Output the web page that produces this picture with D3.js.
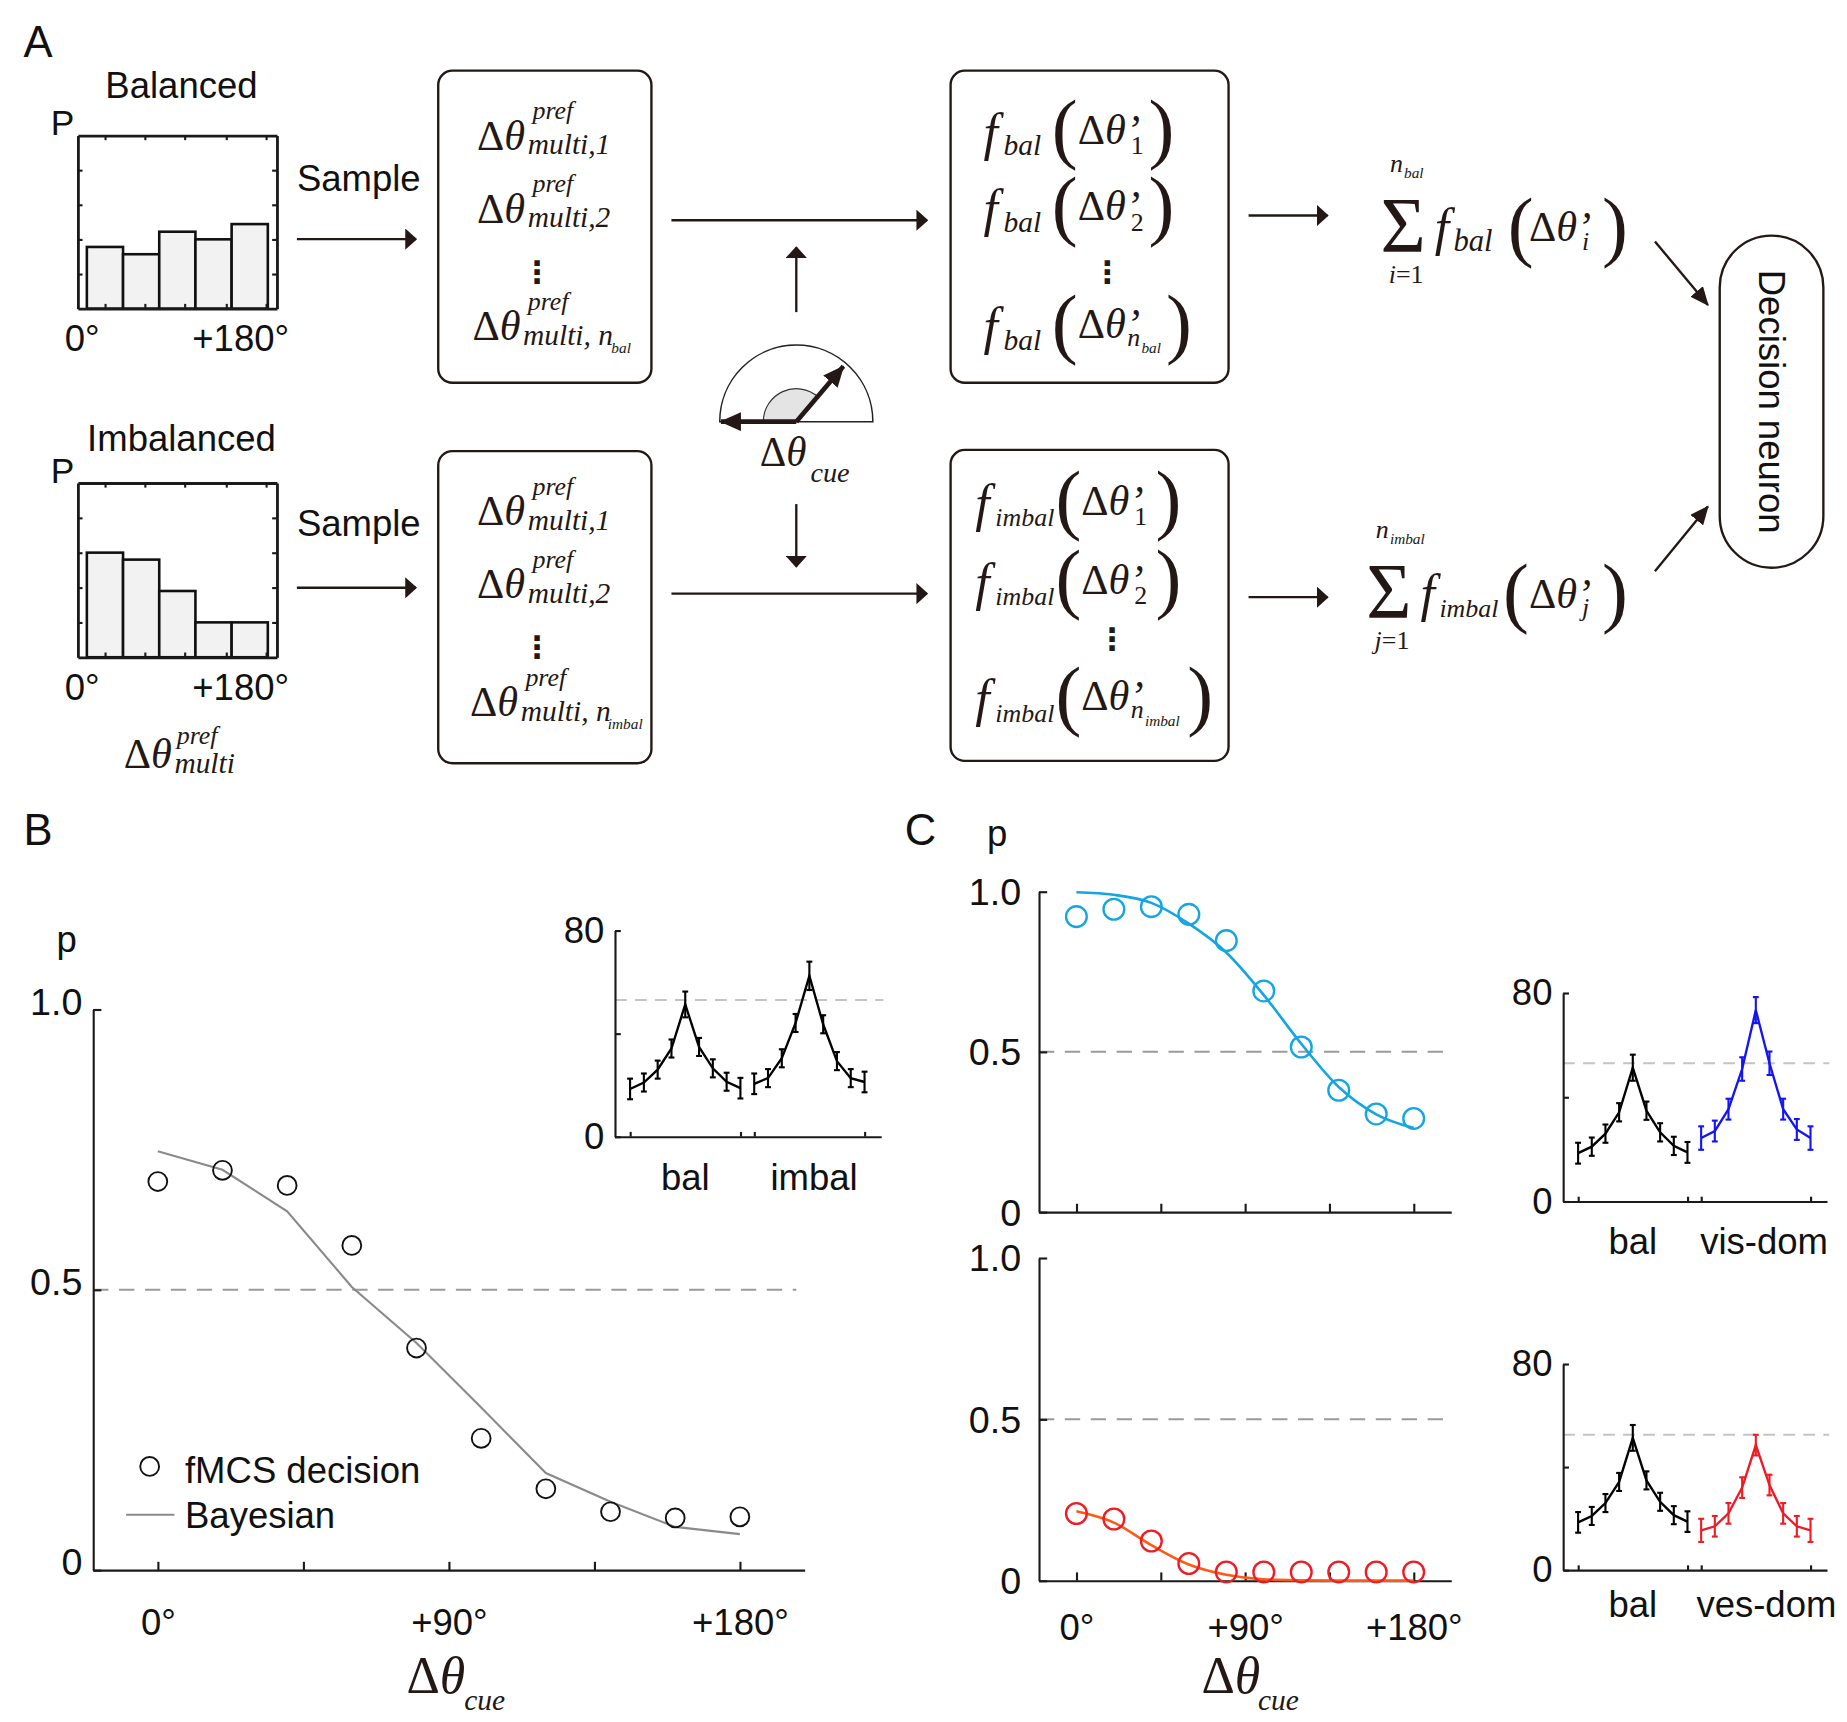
<!DOCTYPE html>
<html>
<head>
<meta charset="utf-8">
<script src="https://cdn.jsdelivr.net/npm/d3@7"></script>
<style>
body { margin: 0; background: #fff; }
svg { display: block; }
</style>
</head>
<body>
<script>
// ---- data ----
var histBins = [0, 1, 2, 3, 4];
var balancedP = [0.178, 0.157, 0.222, 0.200, 0.244];
var imbalancedP = [0.30, 0.28, 0.19, 0.10, 0.10];
var histYTicks = [0.1, 0.2, 0.3, 0.4];
var histXTicks = [0.5, 1.6, 2.7, 3.85, 4.95];

var cueAngles = [0, 20, 40, 60, 80, 100, 120, 140, 160, 180];
var fmcsB = [0.693, 0.713, 0.686, 0.579, 0.396, 0.235, 0.145, 0.104, 0.093, 0.095];
var bayesB = [0.747, 0.714, 0.640, 0.505, 0.405, 0.290, 0.173, 0.122, 0.077, 0.064];
var fmcsVis = [0.922, 0.945, 0.953, 0.929, 0.847, 0.690, 0.515, 0.380, 0.306, 0.292];
var fitVis = [0.998, 0.990, 0.965, 0.900, 0.810, 0.677, 0.525, 0.390, 0.305, 0.262];
var fmcsVes = [0.208, 0.191, 0.123, 0.053, 0.027, 0.027, 0.027, 0.027, 0.027, 0.027];
var fitVes = [0.215, 0.180, 0.110, 0.050, 0.018, 0.004, 0.001, 0, 0, 0];

var angleTicks = [0, 45, 90, 135, 180];
var angleLabels = ["0\u00b0", "", "+90\u00b0", "", "+180\u00b0"];
var pTicks = [0, 0.5, 1];
var pTickLabels = ["0", "0.5", "1.0"];

// inset tuning curves (two groups of 9 neurons side by side)
var balIdx = [0, 1, 2, 3, 4, 5, 6, 7, 8];
var otherIdx = [9, 10, 11, 12, 13, 14, 15, 16, 17];
var insetXTicks = [0, 8, 9, 17];
var rateTicks = [0, 40, 80];
var rateTickLabels = ["0", "", "80"];
var balRate = [18.5, 21.0, 26.0, 34.2, 51.3, 34.8, 26.5, 21.3, 18.8];
var balErr = [4, 3.5, 3.5, 3.5, 5, 3.5, 3.5, 3.5, 4];
var imbalRate = [20.5, 22.7, 30.4, 44.1, 62.4, 43.6, 29.3, 22.7, 21.2];
var imbalErr = [4, 3.5, 3.5, 3.5, 5.5, 3.5, 3.5, 3.5, 4];
var visRate = [24.3, 27.0, 35.4, 50.8, 73.4, 53.0, 35.4, 27.6, 24.3];
var visErr = [4.5, 4, 4, 4.5, 5, 4.5, 4, 4, 4.5];
var vesRate = [15.4, 17.0, 22.0, 32.0, 48.5, 33.0, 22.0, 17.0, 15.4];
var vesErr = [4.5, 4, 4, 4, 4, 4, 4, 4, 4.5];
var rateThresh = [53, 53, 52.5];

// ---- page ----
var SANS = "'Liberation Sans', Arial, Helvetica, sans-serif";
var SERIF = "'Liberation Serif', 'Times New Roman', serif";
var INK = "#231815";
var CYAN = "#14a5e3", BLUE = "#1414f5", RED = "#ee1c25", ORANGE = "#ff5a14";

var svg = d3.select("body").append("svg")
    .attr("width", 1847)
    .attr("height", 1722)
    .attr("viewBox", "0 0 1568 1462");

var defs = svg.append("defs");

function marker(id, len, wid) {
    defs.append("marker")
        .attr("id", id)
        .attr("viewBox", "0 0 " + len + " " + wid)
        .attr("refX", len - 1)
        .attr("refY", wid / 2)
        .attr("markerWidth", len)
        .attr("markerHeight", wid)
        .attr("markerUnits", "userSpaceOnUse")
        .attr("orient", "auto")
        .append("path")
        .attr("d", "M0,0L" + len + "," + (wid / 2) + "L0," + wid + "Z")
        .attr("fill", INK);
}
marker("thin", 10, 18);
marker("diag", 16, 14);
marker("thick", 18, 16);

function arrow(x1, y1, x2, y2, m, w) {
    svg.append("line")
        .attr("x1", x1).attr("y1", y1)
        .attr("x2", x2).attr("y2", y2)
        .attr("stroke", INK)
        .attr("stroke-width", w || 2)
        .attr("marker-end", "url(#" + m + ")");
}

function label(g, x, y, s, size, anchor) {
    return g.append("text")
        .attr("x", x).attr("y", y)
        .attr("text-anchor", anchor || "start")
        .style("font-family", SANS)
        .style("font-size", size + "px")
        .attr("fill", "#111")
        .text(s);
}

function mtext(g, x, y, s, size, italic) {
    return g.append("text")
        .attr("x", x).attr("y", y)
        .style("font-family", SERIF)
        .style("font-style", italic ? "italic" : "normal")
        .style("font-size", size + "px")
        .attr("fill", INK)
        .text(s);
}

function deltaTheta(g, x, y, size, prime) {
    var t = g.append("text")
        .attr("x", x).attr("y", y)
        .style("font-family", SERIF)
        .style("font-size", size + "px")
        .attr("fill", INK);
    t.append("tspan").text("\u0394");
    t.append("tspan").style("font-style", "italic").text(prime ? "\u03b8\u2019" : "\u03b8");
    return t;
}

function vdots(g, x, y) {
    g.append("text")
        .attr("x", x).attr("y", y)
        .attr("text-anchor", "middle")
        .style("font-family", "'DejaVu Sans', sans-serif")
        .style("font-weight", "bold")
        .style("font-size", "26px")
        .attr("fill", INK)
        .text("\u22ee");
}

function box(x, y, w, h) {
    svg.append("rect")
        .attr("x", x).attr("y", y)
        .attr("width", w).attr("height", h)
        .attr("rx", 12)
        .attr("fill", "none")
        .attr("stroke", INK)
        .attr("stroke-width", 2);
}

function styleAxis(a, size) {
    a.attr("font-size", null).attr("font-family", null);
    a.select(".domain").attr("stroke", "#1a1a1a").attr("stroke-width", 1.8);
    a.selectAll(".tick line").attr("stroke", "#1a1a1a").attr("stroke-width", 1.8);
    a.selectAll("text")
        .style("font-family", SANS)
        .style("font-size", (size || 31) + "px")
        .attr("fill", "#111");
}

// ================= panel A =================
var gA = svg.append("g");
label(gA, 20, 48, "A", 37);

function drawHist(title, titleY, values, fx, fy, fw, fh) {
    var x = d3.scaleLinear().domain([-0.25, 5.25]).range([fx, fx + fw]);
    var y = d3.scaleLinear().domain([0, 0.5]).range([fy + fh, fy]);
    var g = gA.append("g");

    g.selectAll(".bar")
        .data(values)
        .enter().append("rect")
        .attr("class", "bar")
        .attr("x", function(d, i) { return x(histBins[i]); })
        .attr("width", function(d, i) { return x(histBins[i] + 1) - x(histBins[i]); })
        .attr("y", function(d) { return y(d); })
        .attr("height", function(d) { return y(0) - y(d); })
        .attr("fill", "#f2f2f2")
        .attr("stroke", "#111")
        .attr("stroke-width", 2.2);

    var axes = [
        [d3.axisBottom(x).tickValues(histXTicks), "translate(0," + (fy + fh) + ")"],
        [d3.axisTop(x).tickValues(histXTicks), "translate(0," + fy + ")"],
        [d3.axisLeft(y).tickValues(histYTicks), "translate(" + fx + ",0)"],
        [d3.axisRight(y).tickValues(histYTicks), "translate(" + (fx + fw) + ",0)"]
    ];
    axes.forEach(function(a) {
        var ax = g.append("g").attr("transform", a[1])
            .call(a[0].tickSizeInner(-4).tickSizeOuter(0).tickFormat(""));
        styleAxis(ax);
        ax.select(".domain").attr("stroke-width", 2.4);
    });

    label(g, fx + 88, titleY, title, 31, "middle");
    label(g, fx - 23, fy, "P", 30);
    label(g, x(0) - 4, fy + fh + 36, "0\u00b0", 31, "middle");
    label(g, x(5) - 23, fy + fh + 36, "+180\u00b0", 31, "middle");
}

drawHist("Balanced", 83, balancedP, 66, 115, 169, 147);
drawHist("Imbalanced", 383, imbalancedP, 66, 410, 169, 148);

deltaTheta(gA, 105, 652, 36);
mtext(gA, 150, 632, "pref", 22, true);
mtext(gA, 148, 656, "multi", 25, true);

// sample arrows
label(gA, 252, 162, "Sample", 31);
label(gA, 252, 455, "Sample", 31);
arrow(252, 203, 353, 203, "thin");
arrow(252, 499, 353, 499, "thin");

// preferred-direction boxes
box(372, 60, 181, 265);
box(372, 383, 181, 265);

function prefTerm(x, y, sub, sub2, sub2dx) {
    deltaTheta(gA, x, y, 36);
    mtext(gA, x + 47, y - 26, "pref", 22, true);
    mtext(gA, x + 43, y + 4, sub, 25, true);
    if (sub2) mtext(gA, x + sub2dx, y + 11, sub2, 13, true);
}
prefTerm(405, 127, "multi,1");
prefTerm(405, 189, "multi,2");
vdots(gA, 456, 240);
prefTerm(401, 289, "multi, n", "bal", 118);

prefTerm(405, 446, "multi,1");
prefTerm(405, 508, "multi,2");
vdots(gA, 456, 559);
prefTerm(399, 608, "multi, n", "imbal", 117);

// cue icon
arrow(570, 187, 787, 187, "thin");
arrow(570, 504, 787, 504, "thin");
arrow(676, 265, 676, 210, "thin");
arrow(676, 428, 676, 481, "thin");

var gIcon = svg.append("g").attr("transform", "translate(676,358)");
gIcon.append("path")
    .attr("d", d3.arc()({ innerRadius: 0, outerRadius: 65, startAngle: -Math.PI / 2, endAngle: Math.PI / 2 }))
    .attr("fill", "none")
    .attr("stroke", "#222")
    .attr("stroke-width", 1.3);
gIcon.append("path")
    .attr("d", d3.arc()({ innerRadius: 0, outerRadius: 28, startAngle: -Math.PI / 2, endAngle: 0.72 }))
    .attr("fill", "#e4e4e4")
    .attr("stroke", "#333")
    .attr("stroke-width", 1);
arrow(676, 358, 612, 358, "thick", 4);
arrow(676, 358, 716, 311, "thick", 4);
deltaTheta(svg, 645, 396, 35);
mtext(svg, 688, 409, "cue", 24, true);

// f boxes
box(807, 60, 236, 265);
box(807, 382, 236, 264);

function fTerm(fx, y, sub, subSize, subW, idx, idx2, closeX) {
    mtext(svg, fx, y, "f", 44, true);
    mtext(svg, fx + 17, y + 5, sub, subSize, true);
    mtext(svg, fx + subW, y + 4, "(", 66, false);
    deltaTheta(svg, fx + subW + 22, y - 5, 36, true);
    if (idx2) {
        mtext(svg, fx + subW + 64, y + 2, idx, 22, true);
        mtext(svg, fx + subW + 76, y + 8, idx2, 13, true);
    } else {
        mtext(svg, fx + subW + 67, y + 4, idx, 22, false);
    }
    mtext(svg, closeX, y + 4, ")", 66, false);
}
fTerm(835, 127, "bal", 25, 58, "1", null, 975);
fTerm(835, 192, "bal", 25, 58, "2", null, 975);
vdots(svg, 940, 240);
fTerm(835, 292, "bal", 25, 58, "n", "bal", 990);

fTerm(828, 442, "imbal", 22, 68, "1", null, 981);
fTerm(828, 509, "imbal", 22, 68, "2", null, 981);
vdots(svg, 944, 552);
fTerm(828, 608, "imbal", 22, 68, "n", "imbal", 1008);

// sums
arrow(1060, 183, 1127, 183, "thin");
arrow(1060, 507, 1127, 507, "thin");

function sumTerm(sx, y, top, idx, sub, subSize, subW) {
    mtext(svg, sx, y + 3, "\u03a3", 66, false);
    mtext(svg, sx + 8, y - 64, "n", 22, true);
    mtext(svg, sx + 20, y - 59, top, 13, true);
    var t = svg.append("text").attr("x", sx + 7).attr("y", y + 30)
        .style("font-family", SERIF).style("font-size", "22px").attr("fill", INK);
    t.append("tspan").style("font-style", "italic").text(idx);
    t.append("tspan").text("=1");
    mtext(svg, sx + 46, y - 2, "f", 44, true);
    mtext(svg, sx + 62, y + 3, sub, subSize, true);
    mtext(svg, sx + 62 + subW, y + 4, "(", 66, false);
    deltaTheta(svg, 1298, y - 5, 36, true);
    mtext(svg, 1343, y + 2, idx, 22, true);
    mtext(svg, 1360, y + 4, ")", 66, false);
}
sumTerm(1172, 210, "bal", "i", "bal", 26, 46);
sumTerm(1160, 521, "imbal", "j", "imbal", 22, 54);

arrow(1405, 205, 1450, 259, "diag");
arrow(1405, 485, 1450, 430, "diag");

svg.append("rect")
    .attr("x", 1460).attr("y", 200)
    .attr("width", 88).attr("height", 282)
    .attr("rx", 44)
    .attr("fill", "none")
    .attr("stroke", INK)
    .attr("stroke-width", 2);
label(svg, 0, 0, "Decision neuron", 31, "middle")
    .attr("transform", "translate(1493,341) rotate(90)");

// ================= panels B and C =================
function drawCurvePanel(cfg) {
    var g = svg.append("g");
    var x = d3.scaleLinear().domain([-20, 200]).range(cfg.xr);
    var y = d3.scaleLinear().domain([0, 1]).range(cfg.yr);

    g.append("line")
        .attr("x1", cfg.xr[0]).attr("x2", cfg.dashEnd)
        .attr("y1", y(0.5)).attr("y2", y(0.5))
        .attr("stroke", "#9a9a9a")
        .attr("stroke-width", 1.6)
        .attr("stroke-dasharray", "13,9");

    var gx = g.append("g")
        .attr("transform", "translate(0," + cfg.yr[0] + ")")
        .call(d3.axisBottom(x).tickValues(angleTicks).tickSizeInner(-7).tickSizeOuter(0)
            .tickPadding(cfg.xPad)
            .tickFormat(function(d, i) { return cfg.xLabels ? angleLabels[i] : ""; }));
    styleAxis(gx);
    var gy = g.append("g")
        .attr("transform", "translate(" + cfg.xr[0] + ",0)")
        .call(d3.axisLeft(y).tickValues(pTicks).tickSizeInner(-7).tickSizeOuter(0)
            .tickPadding(cfg.yPad)
            .tickFormat(function(d, i) { return pTickLabels[i]; }));
    styleAxis(gy, 32);
    gy.selectAll("text").attr("dy", cfg.yDy);

    var line = d3.line()
        .x(function(d, i) { return x(cueAngles[i]); })
        .y(function(d) { return y(d); })
        .curve(cfg.curve);
    g.append("path")
        .datum(cfg.fit)
        .attr("d", line)
        .attr("fill", "none")
        .attr("stroke", cfg.lineColor)
        .attr("stroke-width", cfg.lineWidth);

    g.selectAll(".pt")
        .data(cfg.points)
        .enter().append("circle")
        .attr("cx", function(d, i) { return x(cueAngles[i]); })
        .attr("cy", function(d) { return y(d); })
        .attr("r", cfg.r)
        .attr("fill", "none")
        .attr("stroke", cfg.dotColor)
        .attr("stroke-width", cfg.dotWidth);
    return g;
}

function drawInset(cfg) {
    var g = svg.append("g");
    var x = d3.scaleLinear().domain([-1.1, 18.2]).range(cfg.xr);
    var y = d3.scaleLinear().domain([0, 80]).range(cfg.yr);

    g.append("line")
        .attr("x1", cfg.xr[0]).attr("x2", cfg.xr[1] + 2)
        .attr("y1", y(cfg.thresh)).attr("y2", y(cfg.thresh))
        .attr("stroke", "#c4c4c4")
        .attr("stroke-width", 1.6)
        .attr("stroke-dasharray", "10,7");

    var gx = g.append("g")
        .attr("transform", "translate(0," + cfg.yr[0] + ")")
        .call(d3.axisBottom(x).tickValues(insetXTicks).tickSizeInner(-4).tickSizeOuter(0).tickFormat(""));
    styleAxis(gx);
    var gy = g.append("g")
        .attr("transform", "translate(" + cfg.xr[0] + ",0)")
        .call(d3.axisLeft(y).tickValues(rateTicks).tickSizeInner(-5).tickSizeOuter(0)
            .tickPadding(9)
            .tickFormat(function(d, i) { return rateTickLabels[i]; }));
    styleAxis(gy);
    gy.selectAll("text").attr("dy", 10);

    var groups = [
        { idx: balIdx, v: balRate, e: balErr, color: "#000" },
        { idx: otherIdx, v: cfg.rate, e: cfg.err, color: cfg.color }
    ];
    groups.forEach(function(s) {
        var line = d3.line()
            .x(function(d, i) { return x(s.idx[i]); })
            .y(function(d) { return y(d); });
        g.append("path")
            .datum(s.v)
            .attr("d", line)
            .attr("fill", "none")
            .attr("stroke", s.color)
            .attr("stroke-width", 2);
        var eb = g.selectAll(null).data(s.v).enter().append("g")
            .attr("stroke", s.color)
            .attr("stroke-width", 1.8);
        eb.append("line")
            .attr("x1", function(d, i) { return x(s.idx[i]); })
            .attr("x2", function(d, i) { return x(s.idx[i]); })
            .attr("y1", function(d, i) { return y(d - s.e[i]); })
            .attr("y2", function(d, i) { return y(d + s.e[i]); });
        [-1, 1].forEach(function(sign) {
            eb.append("line")
                .attr("x1", function(d, i) { return x(s.idx[i]) - 2.5; })
                .attr("x2", function(d, i) { return x(s.idx[i]) + 2.5; })
                .attr("y1", function(d, i) { return y(d + sign * s.e[i]); })
                .attr("y2", function(d, i) { return y(d + sign * s.e[i]); });
        });
    });

    label(g, x(balIdx[4]), cfg.labelY, "bal", 31, "middle");
    label(g, x(otherIdx[4]) + cfg.labelShift, cfg.labelY, cfg.name, 31, "middle");
}

// ---- B ----
label(svg, 20, 717, "B", 37);
label(svg, 48, 808, "p", 31);
drawCurvePanel({
    xr: [79, 683], yr: [1333, 857], dashEnd: 676,
    xPad: 33, xLabels: true, yPad: 9, yDy: 4,
    fit: bayesB, points: fmcsB, curve: d3.curveLinear,
    lineColor: "#8a8a8a", lineWidth: 1.8,
    dotColor: "#111", dotWidth: 1.6, r: 8
});
// legend
svg.append("circle").attr("cx", 127).attr("cy", 1245).attr("r", 8)
    .attr("fill", "none").attr("stroke", "#111").attr("stroke-width", 1.6);
label(svg, 157, 1259, "fMCS decision", 31);
svg.append("line").attr("x1", 107).attr("x2", 148).attr("y1", 1286).attr("y2", 1286)
    .attr("stroke", "#8a8a8a").attr("stroke-width", 1.8);
label(svg, 157, 1297, "Bayesian", 31);
deltaTheta(svg, 345, 1437, 44);
mtext(svg, 394, 1452, "cue", 25, true);

drawInset({
    xr: [522, 748], yr: [965, 790], thresh: rateThresh[0],
    rate: imbalRate, err: imbalErr, color: "#000",
    name: "imbal", labelY: 1010, labelShift: 4
});

// ---- C ----
label(svg, 768, 717, "C", 37);
label(svg, 838, 718, "p", 31);
drawCurvePanel({
    xr: [882, 1232], yr: [1029, 757], dashEnd: 1226,
    xPad: 28, xLabels: false, yPad: 15, yDy: 11,
    fit: fitVis, points: fmcsVis, curve: d3.curveMonotoneX,
    lineColor: CYAN, lineWidth: 2.2,
    dotColor: CYAN, dotWidth: 2, r: 8.8
});
drawCurvePanel({
    xr: [882, 1232], yr: [1342, 1068], dashEnd: 1226,
    xPad: 28, xLabels: true, yPad: 15, yDy: 11,
    fit: fitVes, points: fmcsVes, curve: d3.curveMonotoneX,
    lineColor: ORANGE, lineWidth: 2.2,
    dotColor: RED, dotWidth: 2, r: 8.8
});
deltaTheta(svg, 1020, 1437, 44);
mtext(svg, 1068, 1452, "cue", 25, true);

drawInset({
    xr: [1327, 1551], yr: [1020, 843], thresh: rateThresh[1],
    rate: visRate, err: visErr, color: BLUE,
    name: "vis-dom", labelY: 1065, labelShift: 7
});
drawInset({
    xr: [1327, 1551], yr: [1333, 1158], thresh: rateThresh[2],
    rate: vesRate, err: vesErr, color: RED,
    name: "ves-dom", labelY: 1373, labelShift: 9
});
</script>
</body>
</html>
